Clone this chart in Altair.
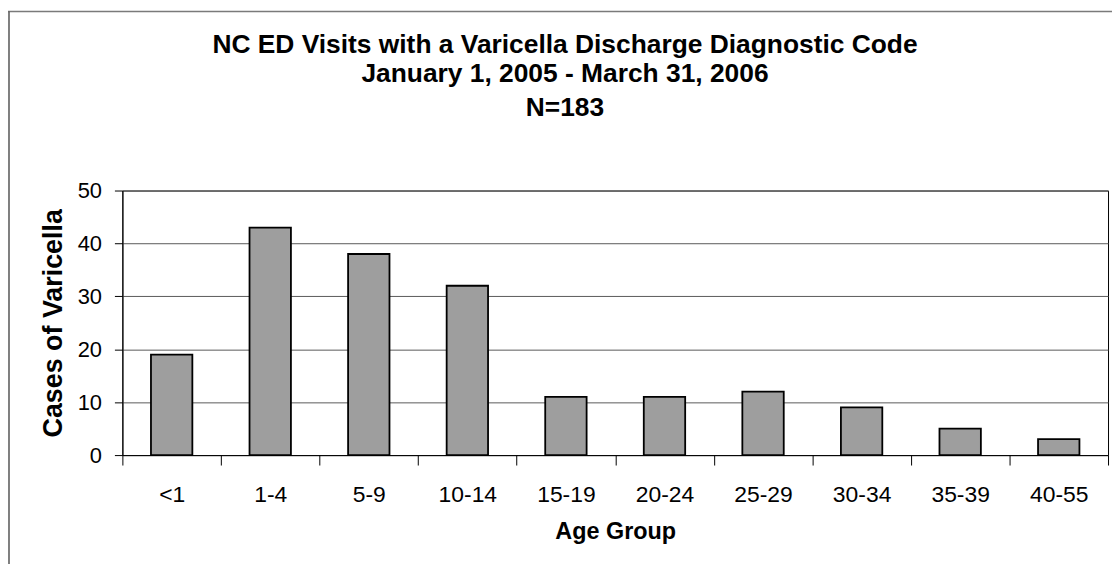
import altair as alt
import pandas as pd

# ---- data ----
age_groups = ["<1", "1-4", "5-9", "10-14", "15-19", "20-24", "25-29", "30-34", "35-39", "40-55"]
cases = [19, 43, 38, 32, 11, 11, 12, 9, 5, 3]
y_ticks = [0, 10, 20, 30, 40, 50]
title_lines = [
    "NC ED Visits with a Varicella Discharge Diagnostic Code",
    "January 1, 2005 - March 31, 2006",
    "N=183",
]

df = pd.DataFrame({"age": age_groups, "cases": cases})
FONT = "Liberation Sans"

bars = alt.Chart(df).mark_bar(
    width=alt.RelativeBandSize(0.42),
    color="#9e9e9e",
    stroke="#000000",
    strokeWidth=1.8,
).encode(
    x=alt.X(
        "age:N",
        sort=age_groups,
        title="Age Group",
        scale=alt.Scale(paddingInner=0, paddingOuter=0),
        axis=alt.Axis(
            labelAngle=0,
            tickBand="extent",
            tickSize=10,
            tickColor="#000000",
            domainColor="#000000",
            grid=False,
            labelFont=FONT,
            labelFontSize=23,
            labelColor="#000000",
            labelPadding=19,
            titleFont=FONT,
            titleFontSize=23.5,
            titleFontWeight="bold",
            titleColor="#000000",
            titlePadding=13,
        ),
    ),
    y=alt.Y(
        "cases:Q",
        title="Cases of Varicella",
        scale=alt.Scale(domain=[0, 50], nice=False),
        axis=alt.Axis(
            values=y_ticks,
            grid=True,
            gridColor="#5a5a5a",
            gridWidth=1,
            tickSize=8,
            tickColor="#000000",
            domainColor="#000000",
            labelFont=FONT,
            labelFontSize=22,
            labelColor="#000000",
            labelPadding=13,
            titleFont=FONT,
            titleFontSize=27,
            titleFontWeight="bold",
            titleColor="#000000",
            titlePadding=10,
        ),
    ),
)

# title lines as text marks (positions relative to the plot area's top-left)
title_y = [-146, -117, -83]
title_layers = [
    alt.Chart(alt.Data(values=[{"t": line}])).mark_text(
        font=FONT, fontSize=26.5, fontWeight="bold", color="#000000",
        align="center", baseline="middle",
    ).encode(text="t:N", x=alt.value(445), y=alt.value(yy))
    for line, yy in zip(title_lines, title_y)
]

frame_data = alt.Data(values=[{"k": 1}])
top_border = alt.Chart(frame_data).mark_rule(color="#7a7a7a", strokeWidth=1.5).encode(
    x=alt.value(-115), x2=alt.value(1000), y=alt.value(-180)
)
left_border = alt.Chart(frame_data).mark_rule(color="#555555", strokeWidth=1.5).encode(
    x=alt.value(-114), y=alt.value(-180), y2=alt.value(400)
)

chart = alt.layer(bars, *title_layers, top_border, left_border).properties(
    width=991,
    height=266,
    autosize=alt.AutoSizeParams(type="none"),
    padding={"left": 115, "top": 182, "right": 4, "bottom": 108},
).configure_view(stroke="#000000", strokeWidth=1)

chart.save("out.html", embed_options={"renderer": "svg", "actions": False})
